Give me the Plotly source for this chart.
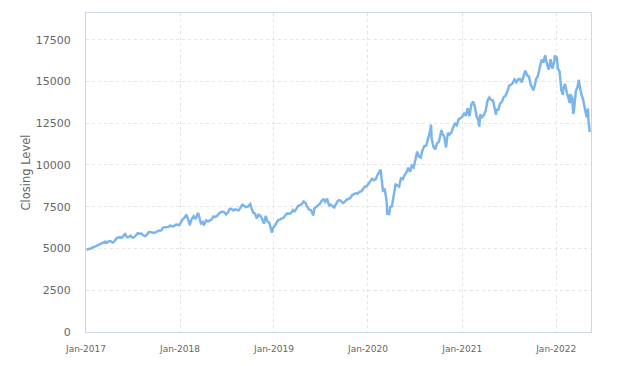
import pandas as pd
import plotly.graph_objects as go

# Weekly (Friday) closing levels
weekly_dates = pd.date_range("2017-01-06", "2022-05-06", freq="W-FRI")

close_2017 = [
    4943, 4983, 4988, 5079,
    5097, 5151, 5233, 5269,
    5330, 5390, 5410, 5362, 5436,
    5432, 5353, 5410, 5584,
    5656, 5676, 5640, 5788,
    5860, 5676, 5690, 5765, 5647,
    5673, 5800, 5920, 5880,
    5890, 5790, 5740, 5810,
    5975, 5990, 5985, 5937, 5980,
    6040, 6080, 6075, 6250,
    6270, 6290, 6280, 6380,
    6330, 6330, 6420, 6430, 6396,
]
close_2018 = [
    6580, 6760, 6840, 7022,
    6730, 6470, 6780, 6930,
    6760, 7090, 6950, 6510, 6580,
    6480, 6690, 6620, 6660,
    6740, 6920, 6880, 6950,
    7100, 7160, 7210, 7170, 7040,
    7150, 7370, 7360, 7280,
    7340, 7330, 7280, 7450, 7620,
    7560, 7480, 7500, 7630,
    7450, 7140, 7100, 6800,
    7020, 6960, 6770, 6490, 6950,
    6600, 6540, 6190, 6230,
]
close_2019 = [
    6340, 6550, 6700, 6740,
    6800, 6850, 7010, 7100,
    7080, 7110, 7300, 7230, 7380,
    7560, 7590, 7660, 7810,
    7740, 7500, 7320, 7300, 7130,
    7400, 7500, 7630, 7670,
    7860, 7950, 7800, 7980,
    7620, 7620, 7550, 7460, 7660,
    7860, 7900, 7820, 7720,
    7820, 7940, 7960, 8050,
    8200, 8270, 8310, 8290, 8400,
    8420, 8550, 8700, 8730,
]
close_2020 = [
    8870, 8960, 9170, 9090, 9150,
    9400, 9620, 9450, 8460,
    8530, 7900, 7150, 7480,
    7530, 8230, 8830, 8780,
    8710, 9190, 9150, 9380, 9550,
    9830, 9590, 9950, 9850,
    10300, 10800, 10500, 10450, 10900,
    11130, 11150, 11520, 11950,
    11620, 11090, 10940, 11300,
    11370, 11860, 11880, 11700, 11050,
    11920, 11830, 11940, 12270,
    12470, 12380, 12750, 12800,
]
close_2021 = [
    12888, 13110, 12940, 13400, 12925,
    13600, 13800, 13490, 12910,
    12670, 13030, 12860, 12990,
    13250, 13850, 14040, 13900, 13860,
    13400, 13300, 13300, 13690,
    13780, 14070, 14140, 14400,
    14750, 14800, 14900, 15120, 14960,
    15130, 15150, 14950, 15340,
    15650, 15370, 15300, 14800,
    14570, 14680, 15150, 15340, 15850,
    16300, 16140, 16570, 16030,
    15710, 16330, 15770, 16160, 16320,
]
close_2022 = [
    15800, 15610, 14440, 14540,
    14860, 14350, 13900, 14240,
    14000, 13300, 14410, 14680,
    14860, 14270, 13950, 13400, 12850,
    12670,
]

# Extra intra-week turning points visible in the chart
extra_dates = [
    "2017-01-03", "2018-02-08", "2018-03-12", "2018-04-02", "2018-10-01",
    "2018-12-24", "2019-06-03", "2019-08-05", "2020-02-19", "2020-03-16",
    "2020-03-23", "2020-09-02", "2020-10-12", "2021-03-08", "2021-05-12",
    "2021-10-04", "2021-12-01", "2021-12-27", "2022-01-03", "2022-01-27",
    "2022-02-23", "2022-03-08", "2022-03-29", "2022-05-04", "2022-05-11",
]
extra_close = [
    4911, 6400, 7131, 6390, 7660,
    5940, 6980, 7560, 9718, 7020,
    6994, 12420, 12088, 12300, 13000,
    14470, 15800, 16567, 16500, 14200,
    13700, 13050, 15100, 13380, 11980,
]

y_ticks = [0, 2500, 5000, 7500, 10000, 12500, 15000, 17500]
x_ticks = ["2017-01-01", "2018-01-01", "2019-01-01", "2020-01-01", "2021-01-01", "2022-01-01"]

weekly_close = close_2017 + close_2018 + close_2019 + close_2020 + close_2021 + close_2022
assert len(weekly_close) == len(weekly_dates), (len(weekly_close), len(weekly_dates))

df = pd.concat([
    pd.DataFrame({"date": weekly_dates, "close": weekly_close}),
    pd.DataFrame({"date": pd.to_datetime(extra_dates), "close": extra_close}),
]).sort_values("date")

fig = go.Figure()
fig.add_trace(go.Scatter(
    x=df["date"], y=df["close"], mode="lines",
    line=dict(color="#7cb5ec", width=2.5),
    showlegend=False,
))

axis_col = "#ccd6eb"
grid_col = "#e4e4e4"
fig.update_layout(
    width=631, height=366,
    margin=dict(l=86, r=40, t=12, b=33),
    paper_bgcolor="white", plot_bgcolor="white",
    font=dict(family="DejaVu Sans", color="#666666"),
    xaxis=dict(
        range=["2017-01-01", "2022-05-16"],
        tickvals=pd.to_datetime(x_ticks),
        tickformat="%b-%Y",
        tickfont=dict(size=9, color="#666666"),
        ticklabelstandoff=8,
        showgrid=True, gridcolor=grid_col, griddash="3px,3px", gridwidth=1,
        showline=True, linecolor=axis_col, linewidth=1, mirror=True,
        ticks="", zeroline=False,
    ),
    yaxis=dict(
        range=[0, 19100],
        tickvals=y_ticks,
        ticktext=[str(v) for v in y_ticks],
        tickfont=dict(size=11, color="#666666"),
        ticklabelstandoff=12,
        title=dict(text="Closing Level", font=dict(size=11.5, color="#666666"), standoff=2),
        showgrid=True, gridcolor=grid_col, griddash="3px,3px", gridwidth=1,
        showline=True, linecolor=axis_col, linewidth=1, mirror=True,
        ticks="", zeroline=False,
    ),
)

fig.write_html("out.html")
